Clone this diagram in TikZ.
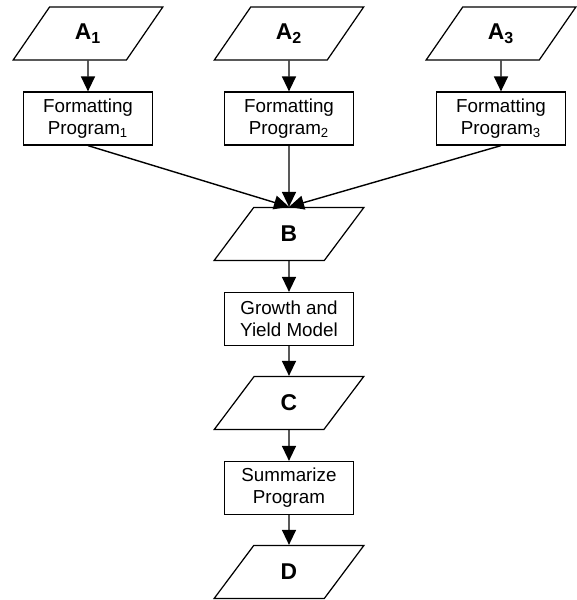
\documentclass[tikz,border=0pt]{standalone}
\usepackage{fontspec}
\setmainfont{Liberation Sans}
\usetikzlibrary{shapes.geometric, arrows.meta, positioning}

\begin{document}
\begin{tikzpicture}[
    node distance=1.7cm, on grid,
    datanode/.style={draw, line width=0.7pt, trapezium, trapezium left angle=60, trapezium right angle=120, trapezium stretches=true, minimum width=3cm, minimum height=1.06cm, font=\fontsize{13}{15}\selectfont\bfseries},
    procnode/.style={draw, line width=0.7pt, rectangle, minimum width=2.58cm, minimum height=1.06cm, align=center, font=\fontsize{10.7}{12.5}\selectfont},
    arrow/.style={-{Triangle[width=0.28cm,length=0.3cm]}, line width=0.8pt}
]
    \useasboundingbox (-5.78,0.67) rectangle (5.76,-11.33);

    % Input data
    \node[datanode] (a2) at (0,0) {A\textsubscript{2}};
    \node[datanode, left=4.02cm of a2] (a1) {A\textsubscript{1}};
    \node[datanode, right=4.24cm of a2] (a3) {A\textsubscript{3}};

    % Formatting programs
    \node[procnode, below=of a1] (fmt1) {Formatting\\Program\textsubscript{1}};
    \node[procnode, below=of a2] (fmt2) {Formatting\\Program\textsubscript{2}};
    \node[procnode, below=of a3] (fmt3) {Formatting\\Program\textsubscript{3}};

    % Merged data
    \node[datanode, below=2.31cm of fmt2] (b) {B};

    % Model
    \node[procnode, below=of b] (model) {Growth and\\Yield Model};
    \node[datanode, below=1.68cm of model] (c) {C};

    % Summary
    \node[procnode, below=of c] (summ) {Summarize\\Program};
    \node[datanode, below=1.68cm of summ] (d) {D};

    % Arrows
    \draw[arrow] (a1) -- (fmt1);
    \draw[arrow] (a2) -- (fmt2);
    \draw[arrow] (a3) -- (fmt3);
    \draw[arrow] (fmt1.south) -- (b.north);
    \draw[arrow] (fmt2.south) -- (b.north);
    \draw[arrow] (fmt3.south) -- (b.north);
    \draw[arrow] (b) -- (model);
    \draw[arrow] (model) -- (c);
    \draw[arrow] (c) -- (summ);
    \draw[arrow] (summ) -- (d);
\end{tikzpicture}
\end{document}
